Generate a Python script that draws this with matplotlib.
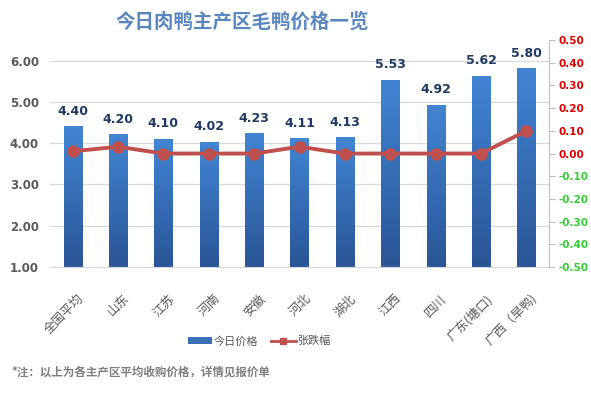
import matplotlib
matplotlib.use("Agg")
import matplotlib.pyplot as plt
import numpy as np
from matplotlib.colors import LinearSegmentedColormap
from matplotlib.lines import Line2D
from matplotlib.patches import Patch

plt.rcParams["font.family"] = ["Noto Sans CJK SC", "DejaVu Sans"]

regions = ["全国平均", "山东", "江苏", "河南", "安徽", "河北", "湖北", "江西", "四川",
           "广东(塘口)", "广西（旱鸭)"]
prices = [4.40, 4.20, 4.10, 4.02, 4.23, 4.11, 4.13, 5.53, 4.92, 5.62, 5.80]
changes = [0.01, 0.03, 0.00, 0.00, 0.00, 0.03, 0.00, 0.00, 0.00, 0.00, 0.10]

left_ticks = [1, 2, 3, 4, 5, 6]
right_ticks = [i / 10 for i in range(-5, 6)]

BAR_TOP = "#4285d3"
BAR_BOT = "#2a5597"
LINE_C = "#c0504d"
GREY = "#595959"

fig = plt.figure(figsize=(5.91, 3.93), dpi=100)
ax = fig.add_axes([0.0846, 0.3206, 0.8444, 0.5774])
ax2 = ax.twinx()

x = np.arange(len(regions))
bars = ax.bar(x, prices, width=0.4, color="none", zorder=2)

# gradient fill for each bar
cmap = LinearSegmentedColormap.from_list("bar", [BAR_BOT, BAR_TOP])
grad = np.linspace(0, 1, 256).reshape(-1, 1)
for b in bars:
    x0 = b.get_x()
    w = b.get_width()
    h = b.get_height()
    ax.imshow(grad, extent=(x0, x0 + w, 1, h), origin="lower", cmap=cmap,
              aspect="auto", zorder=2)
    ax.text(x0 + w / 2, h + 0.22, f"{h:.2f}", ha="center", va="bottom",
            fontsize=9, fontweight="bold", color="#1f3864", family="DejaVu Sans")
ax.set_xlim(-0.5, len(regions) - 0.5)
ax.set_ylim(1, 6.5)

ax.set_yticks(left_ticks)
ax.set_yticklabels([f"{v:.2f}" for v in left_ticks], fontsize=8.5, fontweight="bold",
                   color=GREY, family="DejaVu Sans")
ax.tick_params(axis="y", length=0, pad=8)
ax.yaxis.grid(True, color="#d9d9d9", linewidth=0.9, zorder=0)
ax.set_axisbelow(True)

ax.set_xticks(x + 0.1)
ax.set_xticklabels(regions, rotation=45, ha="right", rotation_mode="anchor",
                   fontsize=9, color=GREY)
ax.tick_params(axis="x", length=0, pad=18)

for s in ["left", "right", "top"]:
    ax.spines[s].set_visible(False)
ax.spines["bottom"].set_color("#d9d9d9")

# change line
ax2.plot(x, changes, color=LINE_C, linewidth=2.8, marker="o", markersize=8,
         markerfacecolor=LINE_C, markeredgecolor=LINE_C, zorder=3)
ax2.set_ylim(-0.5, 0.5)
ax2.set_yticks(right_ticks)
ax2.set_yticklabels([f"{v:.2f}" for v in right_ticks], fontsize=7.5,
                    fontweight="bold", family="DejaVu Sans")
for lbl, v in zip(ax2.get_yticklabels(), right_ticks):
    lbl.set_color("#e00000" if v >= 0 else "#33cc33")
ax2.tick_params(axis="y", length=4, color="#bfbfbf", pad=3)
for s in ["left", "top", "bottom"]:
    ax2.spines[s].set_visible(False)
ax2.spines["right"].set_color("#bfbfbf")

fig.text(0.41, 0.944, "今日肉鸭主产区毛鸭价格一览", ha="center", va="center",
         fontsize=14, fontweight="bold", color="#5a86bf")

handles = [Patch(facecolor="#3a70b8", edgecolor="none"),
           Line2D([0], [0], color=LINE_C, linewidth=2, marker="s", markersize=5)]
fig.legend(handles, ["今日价格", "张跌幅"], loc="center", bbox_to_anchor=(0.438, 0.132),
           ncol=2, frameon=False, fontsize=8, handlelength=2.2, handleheight=0.5,
           handletextpad=0.1, columnspacing=1.2, labelcolor=GREY)

fig.text(0.02, 0.053, "*注：以上为各主产区平均收购价格，详情见报价单", ha="left",
         va="center", fontsize=8.3, fontweight="bold", color="#7f7f7f")

fig.savefig("out.png", dpi=100)
